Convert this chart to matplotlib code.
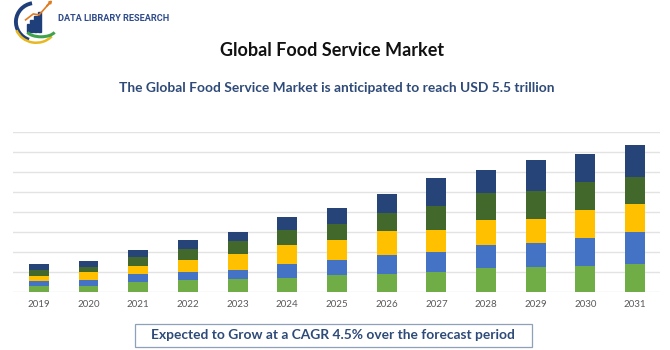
import matplotlib
matplotlib.use("Agg")
import matplotlib.pyplot as plt
import numpy as np
from matplotlib.patches import Arc, Rectangle, FancyArrow

years = ["2019", "2020", "2021", "2022", "2023", "2024", "2025",
         "2026", "2027", "2028", "2029", "2030", "2031"]
# stacked segments, bottom to top (grid units)
seg_green = [0.27, 0.30, 0.50, 0.57, 0.65, 0.68, 0.82, 0.88, 0.98, 1.18, 1.22, 1.30, 1.40]
seg_blue = [0.27, 0.28, 0.37, 0.40, 0.43, 0.70, 0.77, 0.95, 1.00, 1.17, 1.20, 1.38, 1.58]
seg_yellow = [0.23, 0.40, 0.42, 0.62, 0.82, 0.98, 1.02, 1.22, 1.13, 1.23, 1.25, 1.40, 1.43]
seg_dkgreen = [0.30, 0.28, 0.47, 0.53, 0.65, 0.72, 0.80, 0.90, 1.17, 1.37, 1.37, 1.42, 1.37]
seg_navy = [0.30, 0.30, 0.35, 0.45, 0.45, 0.65, 0.77, 0.93, 1.42, 1.17, 1.55, 1.40, 1.58]

series = [seg_green, seg_blue, seg_yellow, seg_dkgreen, seg_navy]
colors = ["#70AD47", "#4472C4", "#FFC000", "#43682B", "#264478"]

FONT = ["Lato", "DejaVu Sans"]

fig = plt.figure(figsize=(6.7, 3.5), dpi=100)
ax = fig.add_axes([0.0194, 0.1666, 0.9656, 0.4554])

x = np.arange(len(years))
bottom = np.zeros(len(years))
for vals, c in zip(series, colors):
    ax.bar(x, vals, bottom=bottom, width=0.4, color=c, zorder=3)
    bottom += np.array(vals)

ax.set_xlim(-0.52, 12.5)
ax.set_ylim(0, 8)
ax.set_yticks(np.arange(0, 9, 1))
ax.yaxis.grid(True, color="#E3E3E3", lw=1.0, zorder=0)
ax.tick_params(axis="y", left=False, labelleft=False)
ax.tick_params(axis="x", length=0, pad=6, labelsize=7, labelcolor="#595959")
ax.set_xticks(x)
ax.set_xticklabels(years, family=FONT)
for s in ax.spines.values():
    s.set_visible(False)

# titles
fig.text(0.495, 0.857, "Global Food Service Market", ha="center", va="center",
         fontsize=13, fontweight="bold", color="#111111", family=FONT)
fig.text(0.503, 0.749, "The Global Food Service Market is anticipated to reach USD 5.5 trillion",
         ha="center", va="center", fontsize=9.9, fontweight="bold", color="#2E4A78", family=FONT)

# bottom box
fig.patches.append(Rectangle((135 / 670, 2.7 / 350), 396.5 / 670, 23 / 350,
                             transform=fig.transFigure, fill=False,
                             edgecolor="#8FA0B8", lw=0.9))
fig.text(0.497, 0.042, "Expected to Grow at a CAGR 4.5% over the forecast period",
         ha="center", va="center", fontsize=9.9, fontweight="bold", color="#2E4A78", family=FONT)

# logo
lax = fig.add_axes([0.018, 0.875, 0.072, 0.125])
lax.set_xlim(0, 50)
lax.set_ylim(0, 44)
lax.axis("off")
lax.add_patch(Arc((24, 22), 40, 38, theta1=100, theta2=250, color="#1F3F7A", lw=2.8))
lax.add_patch(Arc((25, 21), 44, 40, theta1=200, theta2=320, color="#E8B820", lw=1.8))
for i, h in enumerate([8, 12, 16, 20]):
    lax.add_patch(Rectangle((15 + i * 4, 12), 3, h, color="#1F3F7A"))
lax.add_patch(Arc((30, 14), 30, 14, theta1=190, theta2=350, color="#3FA34D", lw=2.2))
lax.plot([14, 22, 28, 38], [24, 30, 29, 40], color="#E07B20", lw=1.2)
lax.add_patch(FancyArrow(36, 38, 3, 3, width=0.5, head_width=3, head_length=2.5, color="#E07B20"))
fig.text(0.087, 0.948, "DATA LIBRARY RESEARCH", ha="left", va="center",
         fontsize=6.6, fontweight="bold", color="#2E4A8A", family=["Roboto", "DejaVu Sans"])

fig.savefig("out.png", dpi=100)
